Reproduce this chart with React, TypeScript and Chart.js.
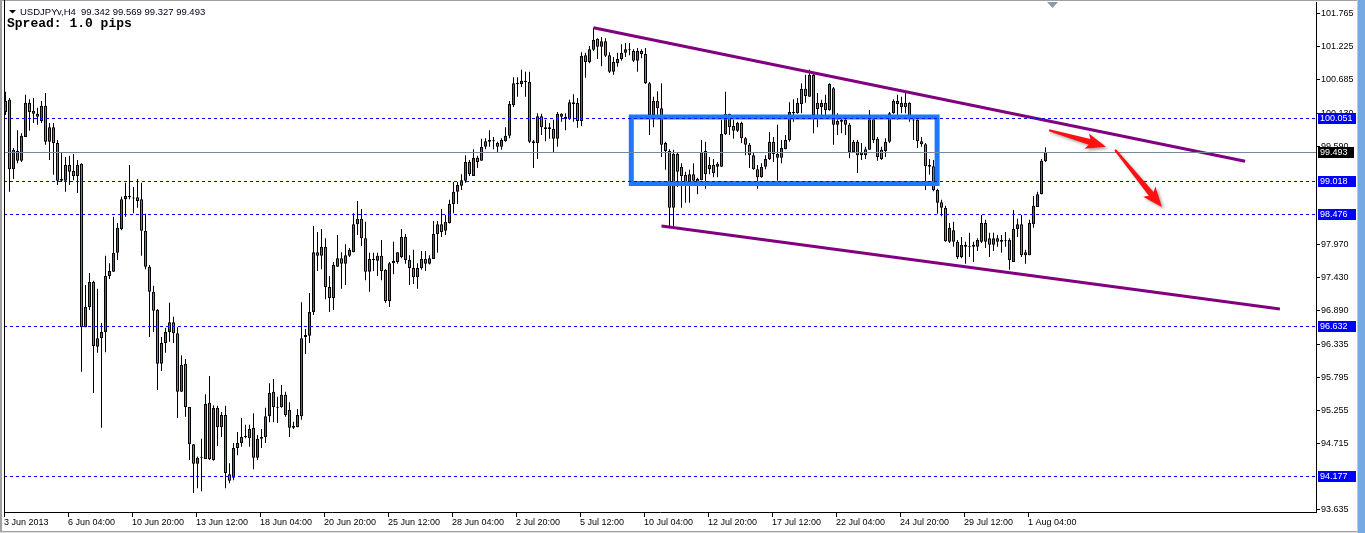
import React, { useEffect, useRef } from 'react';
import { Chart, registerables } from 'chart.js';

Chart.register(...registerables);

// ---------- DATA (USDJPYv, H4) ----------
const opens = [
  100.15,100.35,99.21,99.51,99.35,99.74,100.30,100.17,100.12,100.00,
  100.25,99.66,99.90,99.64,99.05,99.02,99.28,99.18,99.10,99.30,
  96.62,96.95,97.36,96.30,96.44,96.54,97.46,97.53,97.84,98.23,
  98.72,98.77,98.74,98.75,98.72,98.20,97.61,97.20,96.90,96.02,
  96.36,96.54,96.70,96.52,95.56,96.02,95.31,94.70,94.38,94.49,
  94.46,95.38,94.44,95.30,94.98,95.18,94.21,94.15,94.64,94.72,
  94.82,94.80,94.97,94.48,94.79,94.82,95.16,95.56,95.31,95.31,
  95.51,95.26,95.00,94.98,95.16,96.46,96.48,96.87,97.85,97.79,
  97.94,97.28,97.10,97.61,97.75,97.66,97.79,97.85,98.31,98.40,
  98.08,97.53,97.72,97.71,97.79,97.56,97.05,97.67,97.69,97.77,
  98.10,97.72,97.59,97.44,97.59,97.74,97.66,97.74,98.15,98.31,
  98.20,98.33,98.64,98.84,98.94,99.02,99.33,99.10,99.40,99.35,
  99.58,99.66,99.67,99.64,99.58,99.67,99.76,100.26,100.61,100.61,
  100.66,100.64,99.67,99.64,100.08,99.90,99.90,99.87,99.71,100.12,
  100.07,100.03,100.28,100.30,100.00,101.08,100.97,101.17,101.35,101.22,
  101.31,101.08,100.81,100.95,101.02,101.12,101.17,101.15,100.99,101.15,
  101.10,100.62,100.10,100.33,100.21,99.64,99.51,98.58,99.46,99.25,
  99.12,98.95,99.13,99.00,99.03,99.51,99.21,99.28,99.25,99.25,
  99.79,100.12,99.92,99.84,99.97,99.72,99.61,99.44,99.21,99.08,
  99.25,99.38,99.66,99.46,99.40,99.54,99.69,100.13,100.13,100.28,
  100.53,100.40,100.76,100.30,100.23,100.30,100.18,100.54,99.94,100.02,
  100.02,99.94,99.49,99.66,99.48,99.44,99.53,100.03,99.71,99.53,
  99.51,99.66,100.13,100.33,100.23,100.30,100.30,100.02,100.02,99.67,
  99.62,99.28,99.26,98.87,98.67,98.58,98.02,98.21,98.02,97.77,
  97.97,97.94,97.94,97.94,98.02,98.33,98.08,97.97,98.08,98.02,
  98.03,98.05,97.69,98.23,98.31,97.85,97.80,98.31,98.59,98.80,
  99.342,
];

const highs = [
  100.48,100.38,99.56,99.85,99.80,100.43,100.36,100.38,100.22,100.33,
  100.46,99.97,99.97,99.69,99.49,99.41,99.43,99.46,99.36,99.31,
  97.31,97.51,97.38,97.25,96.69,97.79,97.67,98.43,98.33,98.76,
  98.99,99.28,98.92,99.05,98.99,98.48,97.64,97.30,96.92,96.46,
  96.61,97.02,96.79,96.62,96.16,96.10,95.31,94.70,94.50,94.79,
  95.52,95.82,95.34,95.33,95.23,95.33,94.39,94.72,94.90,95.13,
  95.02,95.02,95.21,94.85,94.95,95.30,95.70,95.77,95.48,95.67,
  95.56,95.39,95.07,95.28,97.03,96.59,97.18,98.28,98.18,98.23,
  98.08,97.46,97.69,98.13,97.85,97.98,97.92,98.49,98.69,98.56,
  98.35,97.84,97.84,97.84,98.05,97.57,97.69,98.02,97.85,98.23,
  98.15,97.80,97.89,97.67,97.87,97.87,97.80,98.36,98.36,98.56,
  98.46,98.71,99.00,99.00,99.13,99.44,99.36,99.54,99.43,99.71,
  99.72,99.85,99.74,99.66,99.72,99.90,100.33,100.72,100.72,100.84,
  100.81,100.81,99.69,100.13,100.12,100.02,99.97,100.02,100.15,100.13,
  100.13,100.35,100.44,100.38,101.13,101.12,101.23,101.53,101.36,101.38,
  101.36,101.13,101.05,101.12,101.26,101.28,101.28,101.18,101.20,101.18,
  101.20,100.64,100.40,100.49,100.62,99.66,99.54,99.53,99.48,99.31,
  99.17,99.20,99.31,99.07,99.69,99.66,99.41,99.38,99.33,100.02,
  100.48,100.12,100.02,99.99,99.99,99.74,99.64,99.49,99.28,99.31,
  99.44,99.82,99.74,99.94,99.69,99.77,100.31,100.36,100.38,100.62,
  100.76,100.84,100.79,100.46,100.35,100.43,100.62,100.56,100.13,100.07,
  100.07,99.97,99.69,99.69,99.64,99.58,100.18,100.05,99.74,99.58,
  99.72,100.15,100.36,100.43,100.40,100.48,100.31,100.03,100.03,99.74,
  99.64,99.38,99.36,98.89,98.71,98.61,98.33,98.35,98.05,98.10,
  98.02,98.17,98.02,98.08,98.46,98.38,98.17,98.17,98.13,98.13,
  98.18,98.08,98.54,98.40,98.46,97.89,98.38,98.77,98.84,99.38,
  99.569,
];

const lows = [
  100.10,98.84,99.05,99.31,99.33,99.74,99.84,99.97,99.94,99.97,
  99.61,99.36,99.12,98.95,99.00,98.84,98.95,99.03,98.82,95.89,
  96.62,96.90,95.54,96.20,94.97,96.21,97.41,97.53,97.72,98.21,
  98.43,98.72,98.49,98.58,97.79,97.57,96.46,96.54,95.59,95.90,
  96.20,96.38,96.36,95.13,95.56,95.15,94.44,93.90,93.98,93.93,
  94.46,94.44,94.43,94.67,94.82,93.98,94.06,94.11,94.52,94.66,
  94.80,94.66,94.29,94.44,94.64,94.72,95.06,95.06,95.05,95.30,
  95.15,94.82,94.95,94.98,95.10,96.18,96.36,96.82,97.54,97.57,
  97.08,96.87,96.90,97.61,97.25,97.31,97.77,97.85,98.13,97.95,
  97.39,97.20,97.54,97.46,97.39,97.02,96.95,97.49,97.66,97.75,
  97.66,97.31,97.33,97.25,97.56,97.54,97.65,97.74,97.84,98.10,
  98.13,98.32,98.49,98.64,98.87,98.99,99.10,99.10,99.23,99.35,
  99.54,99.58,99.54,99.49,99.53,99.66,99.72,100.23,100.40,100.56,
  100.40,99.64,99.23,99.38,99.77,99.67,99.71,99.49,99.58,99.99,
  99.85,100.02,99.99,99.89,99.92,100.71,100.95,101.15,101.02,100.90,
  101.05,100.79,100.76,100.89,100.99,101.05,101.08,100.97,100.81,101.03,
  100.61,99.77,99.90,100.03,99.41,99.20,98.28,98.26,98.92,98.58,
  98.66,98.66,98.95,98.80,99.03,98.89,99.13,99.08,99.08,99.25,
  99.77,99.77,99.71,99.82,99.64,99.44,99.23,99.20,98.89,99.07,
  99.21,99.36,99.33,99.02,99.31,99.54,99.66,99.99,100.12,100.13,
  100.30,100.40,99.80,99.90,100.08,100.10,100.17,99.61,99.77,99.80,
  99.77,99.39,99.48,99.15,99.36,99.38,99.53,99.64,99.35,99.36,
  99.41,99.64,100.12,100.02,100.13,100.13,99.99,99.69,99.56,99.58,
  98.87,99.12,98.85,98.48,98.44,98.02,98.00,97.94,97.74,97.75,
  97.66,97.77,97.69,97.87,98.00,97.92,97.77,97.87,97.94,97.84,
  97.94,97.56,97.69,98.10,97.77,97.66,97.80,98.25,98.59,98.80,
  99.327,
];

const closes = [
  100.33,99.21,99.53,99.35,99.76,100.30,100.15,100.12,100.07,100.25,
  99.66,99.90,99.64,99.02,99.02,99.28,99.17,99.10,99.28,96.62,
  96.95,97.36,96.31,96.44,96.54,97.46,97.54,97.84,98.25,98.72,
  98.77,98.75,98.73,98.69,98.20,97.61,97.20,96.89,96.02,96.36,
  96.54,96.70,96.52,95.56,96.00,95.31,94.70,94.38,94.48,94.48,
  95.36,94.46,95.30,94.98,95.18,94.23,94.10,94.64,94.72,94.82,
  94.83,94.95,94.48,94.79,94.82,95.16,95.54,95.31,95.30,95.51,
  95.18,94.97,94.97,95.18,96.44,96.49,96.87,97.85,97.79,97.94,
  97.28,97.10,97.64,97.75,97.66,97.80,97.89,98.31,98.40,98.08,
  97.53,97.74,97.73,97.79,97.54,97.05,97.67,97.71,97.85,98.10,
  97.72,97.59,97.44,97.59,97.74,97.66,97.75,98.15,98.31,98.18,
  98.35,98.64,98.84,98.95,99.03,99.33,99.13,99.40,99.33,99.58,
  99.67,99.69,99.68,99.58,99.69,99.76,100.28,100.62,100.62,100.66,
  100.64,99.66,99.64,100.08,99.90,99.87,99.87,99.71,100.12,100.07,
  100.03,100.31,100.31,100.00,101.07,100.97,101.18,101.33,101.22,101.31,
  101.07,100.81,100.97,101.02,101.12,101.18,101.16,100.99,101.15,101.10,
  100.62,100.10,100.33,100.21,99.61,99.51,98.58,99.46,99.17,99.10,
  98.95,99.13,99.02,99.05,99.49,99.13,99.28,99.15,99.30,99.79,
  100.12,99.90,99.84,99.97,99.72,99.61,99.44,99.21,99.08,99.25,
  99.38,99.66,99.46,99.40,99.56,99.69,100.15,100.15,100.30,100.53,
  100.41,100.76,100.10,100.20,100.30,100.18,100.61,99.94,100.00,99.99,
  99.94,99.49,99.66,99.44,99.44,99.54,100.03,99.69,99.41,99.38,
  99.66,100.13,100.33,100.28,100.30,100.23,100.03,100.01,99.67,99.62,
  99.26,99.25,98.87,98.66,98.58,98.03,98.25,98.02,97.77,97.97,
  97.94,97.93,97.97,98.05,98.33,98.02,97.97,98.08,98.02,98.05,
  98.04,97.72,98.23,98.31,97.80,97.80,98.33,98.61,98.80,99.35,
  99.493,
];

const xTickLabels = [
  '3 Jun 2013', '6 Jun 04:00', '10 Jun 20:00', '13 Jun 12:00', '18 Jun 04:00',
  '20 Jun 20:00', '25 Jun 12:00', '28 Jun 04:00', '2 Jul 20:00', '5 Jul 12:00',
  '10 Jul 04:00', '12 Jul 20:00', '17 Jul 12:00', '22 Jul 04:00', '24 Jul 20:00',
  '29 Jul 12:00', '1 Aug 04:00',
];
const barsPerTick = 16;

const yTickValues = [101.765, 101.225, 100.685, 100.130, 99.590, 97.970, 97.430, 96.890, 96.335, 95.795, 95.255, 94.715, 93.635];

const levelValues = [100.051, 99.018, 98.476, 96.632, 94.177];
const bidValue = 99.493;

const upperTrend = [{ x: 147, y: 101.53 }, { x: 309.9, y: 99.34 }];
const lowerTrend = [{ x: 164, y: 98.28 }, { x: 318.6, y: 96.92 }];
const boxX = [156.45, 232.9];
const boxY = [100.067, 98.977];

const arrowFrom = [[260.9, 99.85], [277.4, 99.53]];
const arrowTo = [[275.1, 99.58], [289.1, 98.59]];

const symbolText = 'USDJPYv,H4  99.342 99.569 99.327 99.493';
const spreadText = 'Spread: 1.0 pips';

const X_MIN = -0.375;
const X_MAX = 327.625;
const Y_MIN = 93.589;
const Y_MAX = 101.953;

const BULL = '#2a8c2a';
const BEAR = '#ee571c';
const LABEL_FONT = '9px "Liberation Sans", Arial, sans-serif';

function drawArrow(ctx: CanvasRenderingContext2D, x1: number, y1: number, x2: number, y2: number) {
  const dx = x2 - x1;
  const dy = y2 - y1;
  const len = Math.hypot(dx, dy);
  const ux = dx / len;
  const uy = dy / len;
  const nx = -uy;
  const ny = ux;
  const headLen = 17;
  const headW = 8;
  const s0 = 1;
  const s1 = 3;
  const bx = x2 - ux * headLen;
  const by = y2 - uy * headLen;
  ctx.beginPath();
  ctx.moveTo(x1 + nx * s0, y1 + ny * s0);
  ctx.lineTo(bx + nx * s1, by + ny * s1);
  ctx.lineTo(bx + nx * headW - ux * 3, by + ny * headW - uy * 3);
  ctx.lineTo(x2, y2);
  ctx.lineTo(bx - nx * headW - ux * 3, by - ny * headW - uy * 3);
  ctx.lineTo(bx - nx * s1, by - ny * s1);
  ctx.lineTo(x1 - nx * s0, y1 - ny * s0);
  ctx.closePath();
  ctx.fill();
}

const framePlugin = {
  id: 'mtFrame',
  beforeDraw(chart: any) {
    const { ctx, width, height } = chart;
    ctx.save();
    ctx.fillStyle = '#ffffff';
    ctx.fillRect(0, 0, width, height);
    ctx.restore();
  },
  afterDatasetsDraw(chart: any) {
    const { ctx, chartArea } = chart;
    const ys = chart.scales.y;
    const xs = chart.scales.x;
    ctx.save();
    ctx.strokeStyle = '#0000ff';
    ctx.lineWidth = 1;
    ctx.setLineDash([3, 3]);
    levelValues.forEach((v) => {
      const py = Math.round(ys.getPixelForValue(v)) + 0.5;
      ctx.beginPath();
      ctx.moveTo(chartArea.left, py);
      ctx.lineTo(chartArea.right, py);
      ctx.stroke();
    });
    ctx.setLineDash([]);
    ctx.strokeStyle = '#778899';
    const by = Math.round(ys.getPixelForValue(bidValue)) + 0.5;
    ctx.beginPath();
    ctx.moveTo(chartArea.left, by);
    ctx.lineTo(chartArea.right, by);
    ctx.stroke();
    ctx.fillStyle = '#ff1010';
    ctx.shadowColor = 'rgba(0,0,0,0.35)';
    ctx.shadowBlur = 3;
    ctx.shadowOffsetX = 2;
    ctx.shadowOffsetY = 2;
    arrowFrom.forEach((f, k) => {
      const t = arrowTo[k];
      drawArrow(
        ctx,
        xs.getPixelForValue(f[0]), ys.getPixelForValue(f[1]),
        xs.getPixelForValue(t[0]), ys.getPixelForValue(t[1]),
      );
    });
    ctx.restore();
  },
  afterDraw(chart: any) {
    const { ctx, chartArea, width, height } = chart;
    const ys = chart.scales.y;
    ctx.save();
    ctx.fillStyle = '#a0a0a0';
    ctx.fillRect(0, 0, 2, height);
    ctx.fillRect(0, 0, width, 1);
    ctx.fillStyle = '#000000';
    ctx.fillRect(chartArea.left, 0, 1, chartArea.bottom + 1);
    ctx.fillStyle = '#c8c8c8';
    ctx.fillRect(1357, 0, 1, height);
    ctx.fillStyle = '#74aae4';
    ctx.fillRect(1358, 0, width - 1358, height);
    ctx.fillStyle = '#a0a0a0';
    ctx.fillRect(0, height - 2, 1357, 1);
    ctx.fillStyle = '#e0e0e0';
    ctx.fillRect(0, height - 1, 1357, 1);

    ctx.font = LABEL_FONT;
    ctx.textBaseline = 'middle';
    ctx.textAlign = 'left';
    const lx = chartArea.right + 2;
    levelValues.forEach((v) => {
      const py = Math.round(ys.getPixelForValue(v));
      ctx.fillStyle = '#0000ff';
      ctx.fillRect(lx, py - 5, 38, 11);
      ctx.fillStyle = '#ffffff';
      ctx.fillText(v.toFixed(3), lx + 2, py + 0.5);
    });
    const bpy = Math.round(ys.getPixelForValue(bidValue));
    ctx.fillStyle = '#000000';
    ctx.fillRect(lx, bpy - 5, 36, 11);
    ctx.fillStyle = '#ffffff';
    ctx.fillText(bidValue.toFixed(3), lx + 2, bpy + 0.5);

    ctx.fillStyle = '#000000';
    ctx.beginPath();
    ctx.moveTo(9, 10);
    ctx.lineTo(16, 10);
    ctx.lineTo(12.5, 13.5);
    ctx.closePath();
    ctx.fill();
    ctx.font = '9.5px "Liberation Sans", Arial, sans-serif';
    ctx.textBaseline = 'alphabetic';
    ctx.fillStyle = '#000020';
    ctx.fillText(symbolText, 20, 15);
    ctx.font = 'bold 13px "Liberation Mono", "Courier New", monospace';
    ctx.fillStyle = '#000000';
    ctx.fillText(spreadText, 7, 27);

    ctx.fillStyle = '#8a9aac';
    ctx.beginPath();
    ctx.moveTo(1047, 2);
    ctx.lineTo(1058, 2);
    ctx.lineTo(1052.5, 8);
    ctx.closePath();
    ctx.fill();
    ctx.restore();
  },
};

export default function App() {
  const ref = useRef<HTMLCanvasElement>(null);

  useEffect(() => {
    document.body.style.margin = '0';
    const canvas = ref.current;
    if (!canvas) return;

    const idx = opens.map((_, i) => i);
    const bodies = idx.map((i) => ({ x: i, y: [opens[i], closes[i]] }));
    const wicks = idx.map((i) => ({ x: i, y: [lows[i], highs[i]] }));
    const rect = [
      { x: boxX[0], y: boxY[0] },
      { x: boxX[1], y: boxY[0] },
      { x: boxX[1], y: boxY[1] },
      { x: boxX[0], y: boxY[1] },
      { x: boxX[0], y: boxY[0] },
    ];

    const chart = new Chart(canvas, {
      type: 'bar',
      data: {
        datasets: [
          {
            type: 'line', data: rect, borderColor: '#1e78ff', borderWidth: 5,
            borderJoinStyle: 'miter', borderCapStyle: 'square', pointRadius: 0, fill: false, tension: 0,
          } as any,
          { type: 'line', data: upperTrend, borderColor: '#800080', borderWidth: 3, pointRadius: 0, fill: false, tension: 0 } as any,
          { type: 'line', data: lowerTrend, borderColor: '#800080', borderWidth: 3, pointRadius: 0, fill: false, tension: 0 } as any,
          {
            type: 'bar', data: bodies, barThickness: 3, borderWidth: 1, borderColor: '#000000',
            borderSkipped: false, minBarLength: 1, inflateAmount: 0, grouped: false,
            backgroundColor: (c: any) => {
              const i = c.dataIndex;
              return closes[i] >= opens[i] ? BULL : BEAR;
            },
          } as any,
          {
            type: 'bar', data: wicks, barThickness: 1, borderWidth: 0, inflateAmount: 0, grouped: false,
            backgroundColor: '#000000',
          } as any,
        ],
      },
      options: {
        animation: false,
        responsive: false,
        devicePixelRatio: 1,
        layout: { padding: { left: 4, top: 2, right: 8, bottom: 0 } },
        plugins: { legend: { display: false }, tooltip: { enabled: false } },
        events: [],
        scales: {
          x: {
            type: 'linear', min: X_MIN, max: X_MAX, offset: false,
            grid: { display: true, drawOnChartArea: false, drawTicks: true, tickLength: 5, color: '#000000', offset: false },
            border: { display: true, color: '#000000', width: 1 },
            ticks: {
              autoSkip: false, maxRotation: 0, minRotation: 0, align: 'start', padding: 0, color: '#000000',
              font: { family: '"Liberation Sans", Arial, sans-serif', size: 9 },
              callback: (v: any) => {
                const k = Math.round((Number(v) - X_MIN) / barsPerTick);
                return xTickLabels[k] ?? '';
              },
            },
            afterBuildTicks: (s: any) => {
              s.ticks = xTickLabels.map((_, k) => ({ value: k * barsPerTick + X_MIN }));
            },
            afterFit: (s: any) => {
              s.height = 21;
              s.paddingLeft = 0;
              s.paddingRight = 0;
            },
          },
          y: {
            type: 'linear', position: 'right', min: Y_MIN, max: Y_MAX,
            grid: { display: true, drawOnChartArea: false, drawTicks: true, tickLength: 4, color: '#000000' },
            border: { display: true, color: '#000000', width: 1 },
            ticks: {
              padding: 1, crossAlign: 'near', color: '#000000',
              font: { family: '"Liberation Sans", Arial, sans-serif', size: 9 },
              callback: (v: any) => Number(v).toFixed(3),
            },
            afterBuildTicks: (s: any) => {
              s.ticks = yTickValues.map((v) => ({ value: v }));
            },
            afterFit: (s: any) => {
              s.width = 41;
              s.paddingTop = 0;
              s.paddingBottom = 0;
            },
          },
        },
      } as any,
      plugins: [framePlugin],
    });

    return () => chart.destroy();
  }, []);

  return (
    <canvas ref={ref} width={1365} height={533} style={{ display: 'block', width: '1365px', height: '533px' }} />
  );
}
